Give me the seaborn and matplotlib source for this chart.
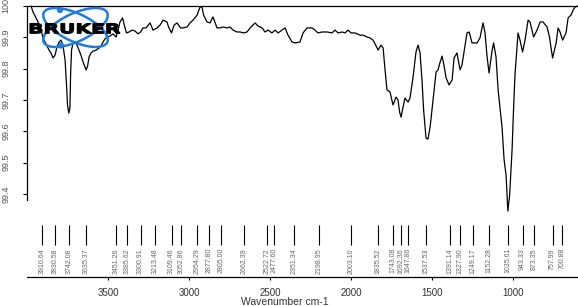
import numpy as np
import pandas as pd
import matplotlib
matplotlib.use("Agg")
import matplotlib.pyplot as plt
import seaborn as sns
from matplotlib.patches import Ellipse, Circle, PathPatch
from matplotlib.textpath import TextPath
from matplotlib.font_manager import FontProperties
from matplotlib.transforms import Affine2D

# ---------------- data ----------------
wavenumber = [
    3977, 3965, 3952, 3934, 3915, 3903, 3891, 3878, 3866, 3854, 3841, 3829, 3817, 3804, 3792, 3780,
    3767, 3758, 3752, 3744, 3737, 3733, 3727, 3718, 3706, 3693, 3681, 3669, 3656, 3637, 3628, 3619,
    3607, 3594, 3576, 3557, 3545, 3533, 3520, 3508, 3490, 3471, 3452, 3440, 3428, 3412, 3400, 3388,
    3372, 3354, 3335, 3317, 3301, 3286, 3267,
    3243, 3224, 3199, 3181, 3162, 3138, 3128, 3110, 3094, 3076, 3054, 3039, 3014, 2996, 2977, 2952,
    2934, 2922, 2912, 2891, 2872, 2854, 2829, 2810, 2792, 2767, 2749, 2730, 2706, 2687, 2665, 2644,
    2625, 2594, 2576, 2551, 2533, 2514, 2490, 2471, 2452, 2428, 2409, 2391, 2366, 2348, 2317, 2298,
    2273, 2243, 2224, 2206, 2181, 2150, 2119, 2101, 2082, 2057, 2039, 2020, 2002, 1977, 1946, 1928,
    1903, 1885, 1866, 1841, 1835, 1817, 1804, 1792, 1780, 1761, 1743, 1724, 1712, 1702, 1693, 1681,
    1669, 1650, 1638, 1619, 1601, 1588, 1576, 1564, 1554, 1539, 1527, 1514, 1496, 1477, 1465, 1452,
    1440, 1431, 1415, 1397, 1378, 1366, 1348, 1329, 1317, 1298, 1286, 1273, 1255, 1224, 1206, 1187,
    1175, 1162, 1150, 1131, 1122, 1107, 1094, 1070, 1057, 1045, 1034, 1023, 1008, 999, 990, 971,
    959, 943, 928, 909, 897, 875, 854, 835, 817, 792, 777, 758, 736, 724, 712, 696,
    675, 662, 644, 631, 619, 601,
]
transmittance = [
    100.000, 99.981, 99.968, 99.949, 99.923, 99.898, 99.885, 99.872, 99.859, 99.850, 99.834, 99.843, 99.869, 99.885, 99.891, 99.875,
    99.827, 99.748, 99.684, 99.658, 99.674, 99.780, 99.859, 99.882, 99.885, 99.875, 99.859, 99.843, 99.821, 99.796, 99.808, 99.837,
    99.850, 99.856, 99.859, 99.866, 99.872, 99.885, 99.895, 99.901, 99.904, 99.911, 99.901, 99.923, 99.949, 99.962, 99.936, 99.914,
    99.917, 99.923, 99.920, 99.911, 99.917, 99.930, 99.930,
    99.946, 99.923, 99.930, 99.939, 99.955, 99.949, 99.933, 99.914, 99.939, 99.946, 99.930, 99.930, 99.933, 99.946, 99.955, 99.971,
    99.997, 99.997, 99.971, 99.949, 99.946, 99.965, 99.930, 99.930, 99.933, 99.930, 99.933, 99.923, 99.917, 99.917, 99.914, 99.917,
    99.930, 99.946, 99.936, 99.930, 99.917, 99.923, 99.914, 99.923, 99.914, 99.923, 99.930, 99.907, 99.885, 99.882, 99.885, 99.914,
    99.930, 99.930, 99.923, 99.914, 99.917, 99.917, 99.914, 99.923, 99.914, 99.917, 99.914, 99.923, 99.914, 99.914, 99.907, 99.907,
    99.901, 99.898, 99.891, 99.866, 99.859, 99.875, 99.866, 99.796, 99.732, 99.725, 99.684, 99.709, 99.700, 99.661, 99.645, 99.677,
    99.706, 99.693, 99.706, 99.773, 99.853, 99.875, 99.850, 99.764, 99.668, 99.578, 99.575, 99.613, 99.700, 99.789, 99.796, 99.821,
    99.840, 99.818, 99.770, 99.748, 99.764, 99.834, 99.850, 99.796, 99.812, 99.875, 99.914, 99.917, 99.882, 99.882, 99.898, 99.946,
    99.914, 99.837, 99.786, 99.859, 99.882, 99.837, 99.732, 99.613, 99.508, 99.460, 99.345, 99.396, 99.540, 99.668, 99.780, 99.914,
    99.891, 99.853, 99.891, 99.955, 99.949, 99.901, 99.923, 99.949, 99.949, 99.933, 99.901, 99.834, 99.882, 99.930, 99.917, 99.891,
    99.914, 99.962, 99.971, 99.987, 99.997, 100.000,
]
peak_positions = [
    3910.64, 3830.58, 3742.08, 3635.37, 3451.26, 3385.62, 3300.91, 3213.48, 3109.46, 3052.86,
    2954.29, 2877.80, 2805.00, 2662.39, 2522.72, 2477.60, 2351.34, 2198.95, 2003.10, 1835.52,
    1743.08, 1692.36, 1647.86, 1537.53, 1391.14, 1327.90, 1249.17, 1152.28, 1035.61, 943.33,
    873.35, 757.99, 700.88,
]
y_ticks = [99.4, 99.5, 99.6, 99.7, 99.8, 99.9, 100.0]
y_tick_labels = ["99.4", "99.5", "99.6", "99.7", "99.8", "99.9", "100"]
x_ticks = [3500, 3000, 2500, 2000, 1500, 1000]
x_tick_labels = ["3500", "3000", "2500", "2000", "1500", "1000"]
x_label = "Wavenumber cm-1"
logo_text = "BRUKER"

df = pd.DataFrame({"wavenumber": wavenumber, "transmittance": transmittance})

# ---------------- style ----------------
sns.set_style("white")
plt.rcParams["font.family"] = ["Liberation Sans", "DejaVu Sans"]

W, H = 578, 306
fig = plt.figure(figsize=(W / 100, H / 100), dpi=100)


def rect(x0, y0, x1, y1):
    return [x0 / W, 1 - y1 / H, (x1 - x0) / W, (y1 - y0) / H]


XLIM = (4002, 601)

# spectrum axes
ax = fig.add_axes(rect(27, 6, 578, 212))
ax.patch.set_alpha(0)
sns.lineplot(data=df, x="wavenumber", y="transmittance", ax=ax, color="black",
             linewidth=0.9, sort=False, estimator=None)
for ln in ax.lines:
    ln.set_clip_on(False)
ax.set_xlim(*XLIM)
ax.set_ylim(99.342, 100.0)
ax.set_xticks([])
ax.set_yticks(y_ticks)
ax.set_yticklabels(y_tick_labels)
ax.set_xlabel("")
ax.set_ylabel("")
for s in ["right", "bottom"]:
    ax.spines[s].set_visible(False)
for s in ["top", "left"]:
    ax.spines[s].set_color("black")
    ax.spines[s].set_linewidth(0.9)
ax.spines["left"].set_bounds(99.38, 100.0)
ax.tick_params(axis="y", direction="out", length=3, width=0.8, color="black",
               labelsize=6.5, labelcolor="#555555", pad=9, left=True)
for lab in ax.get_yticklabels():
    lab.set_rotation(90)
    lab.set_va("center")

# peak-label axes
axb = fig.add_axes(rect(27, 212, 578, 277))
axb.patch.set_alpha(0)
axb.set_xlim(*XLIM)
axb.set_ylim(0, 1)
axb.set_yticks([])
axb.set_xticks(x_ticks)
axb.set_xticklabels(x_tick_labels)
for s in ["left", "top", "right"]:
    axb.spines[s].set_visible(False)
axb.spines["bottom"].set_color("black")
axb.spines["bottom"].set_linewidth(0.9)
axb.tick_params(axis="x", direction="out", length=2, width=0.8, color="black",
                labelsize=7, labelcolor="#333333", pad=6, bottom=True)
trans = axb.get_xaxis_transform()
axb.vlines(peak_positions, 0.492, 0.80, transform=trans, color="black", linewidth=0.8)
for p in peak_positions:
    axb.text(p, 0.446, f"{p:.2f}", rotation=90, ha="center", va="top",
             fontsize=5, color="#666666", transform=trans)

fig.text(285 / W, 1 - 305 / H, x_label, ha="center", va="baseline", fontsize=7.5, color="#333333")

# logo overlay
axo = fig.add_axes([0, 0, 1, 1])
axo.set_xlim(0, W)
axo.set_ylim(H, 0)
axo.axis("off")
axo.patch.set_alpha(0)
blue = "#1e7be0"
for ang in (25, -25):
    axo.add_patch(Ellipse((75.5, 27.5), width=70, height=28, angle=ang, fill=False,
                          edgecolor=blue, linewidth=1.8))
axo.add_patch(Circle((60, 10), 2.4, color=blue))
axo.add_patch(Circle((61, 45.5), 2.4, color=blue))
tp = TextPath((0, 0), logo_text, prop=FontProperties(family="DejaVu Sans", weight="bold"), size=10)
ext = tp.get_extents()
bx0, bx1, by0, by1 = 30, 120, 23.5, 33.5
tr = (Affine2D().translate(-ext.x0, -ext.y0)
      .scale((bx1 - bx0) / ext.width, -(by1 - by0) / ext.height)
      .translate(bx0, by1))
axo.add_patch(PathPatch(tr.transform_path(tp), facecolor="black", edgecolor="black", linewidth=0.8))

fig.savefig("out.png", dpi=100)
